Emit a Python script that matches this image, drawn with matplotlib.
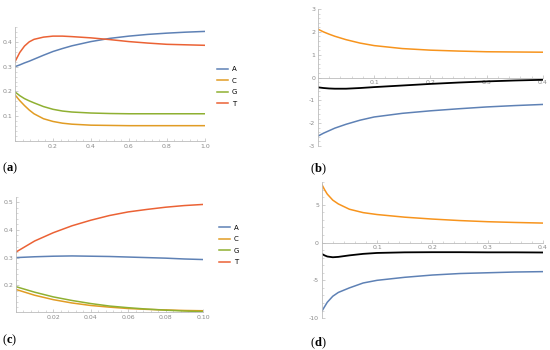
import matplotlib
matplotlib.use("Agg")
import matplotlib.pyplot as plt
from matplotlib.ticker import AutoMinorLocator, FixedLocator

# panel (a): base frequencies over t in [0, 1]
xa = [0, 0.025, 0.05, 0.075, 0.1, 0.15, 0.2, 0.25, 0.3, 0.4, 0.5, 0.6, 0.7, 0.8, 0.9, 1.0]
a_A = [0.300, 0.307, 0.315, 0.322, 0.330, 0.346, 0.361, 0.373, 0.384, 0.401, 0.414, 0.423, 0.430, 0.435, 0.439, 0.442]
a_C = [0.186, 0.163, 0.143, 0.125, 0.110, 0.090, 0.079, 0.072, 0.068, 0.064, 0.063, 0.062, 0.062, 0.062, 0.062, 0.062]
a_G = [0.198, 0.183, 0.171, 0.162, 0.154, 0.139, 0.128, 0.121, 0.117, 0.113, 0.111, 0.110, 0.110, 0.110, 0.110, 0.110]
a_T = [0.320, 0.357, 0.383, 0.400, 0.410, 0.419, 0.423, 0.423, 0.421, 0.416, 0.409, 0.401, 0.395, 0.390, 0.388, 0.386]

# panel (b)
xb = [0, 0.01, 0.02, 0.03, 0.05, 0.075, 0.1, 0.15, 0.2, 0.25, 0.3, 0.35, 0.4]
b_orange = [2.12, 2.00, 1.90, 1.81, 1.66, 1.51, 1.40, 1.27, 1.20, 1.16, 1.13, 1.12, 1.11]
b_black = [-0.43, -0.46, -0.48, -0.49, -0.49, -0.46, -0.42, -0.35, -0.28, -0.22, -0.17, -0.13, -0.10]
b_blue = [-2.57, -2.44, -2.33, -2.22, -2.05, -1.87, -1.73, -1.57, -1.46, -1.37, -1.29, -1.23, -1.18]

# panel (c): base frequencies over t in [0, 0.1]
xc = [0, 0.01, 0.02, 0.03, 0.04, 0.05, 0.06, 0.07, 0.08, 0.09, 0.10]
c_A = [0.300, 0.303, 0.305, 0.306, 0.305, 0.304, 0.302, 0.300, 0.298, 0.295, 0.293]
c_C = [0.185, 0.164, 0.148, 0.136, 0.127, 0.121, 0.116, 0.113, 0.111, 0.109, 0.108]
c_G = [0.195, 0.175, 0.158, 0.145, 0.134, 0.125, 0.119, 0.114, 0.110, 0.107, 0.105]
c_T = [0.320, 0.360, 0.390, 0.415, 0.435, 0.452, 0.465, 0.474, 0.482, 0.488, 0.492]

# panel (d)
xd = [0, 0.005, 0.01, 0.02, 0.03, 0.05, 0.075, 0.1, 0.15, 0.2, 0.25, 0.3, 0.35, 0.4]
d_orange = [7.7, 7.0, 6.4, 5.6, 5.1, 4.4, 3.95, 3.7, 3.35, 3.1, 2.9, 2.75, 2.65, 2.57]
d_black = [-1.5, -1.7, -1.85, -1.95, -1.9, -1.7, -1.5, -1.38, -1.3, -1.28, -1.28, -1.3, -1.3, -1.32]
d_blue = [-9.1, -8.5, -7.9, -7.1, -6.6, -6.0, -5.35, -5.0, -4.6, -4.3, -4.1, -4.0, -3.9, -3.85]

bases = ["A", "C", "G", "T"]
colors = ["#5E81B5", "#E19C24", "#8FB032", "#EB6235"]
orange2 = "#F7941D"
axis_col = "#BBBBBB"
tick_col = "#8A8A8A"

plt.rcParams["mathtext.fontset"] = "custom"
plt.rcParams["mathtext.rm"] = "Liberation Serif"
plt.rcParams["mathtext.bf"] = "Liberation Serif:bold"

fig = plt.figure(figsize=(5.5, 3.5), dpi=100)


def style(ax, xticks, yticks, xfmt, yfmt, zero_axis=False):
    for s in ["top", "right"]:
        ax.spines[s].set_visible(False)
    for s in ["left", "bottom"]:
        ax.spines[s].set_color(axis_col)
        ax.spines[s].set_linewidth(0.6)
    if zero_axis:
        ax.spines["bottom"].set_position(("data", 0))
    ax.xaxis.set_major_locator(FixedLocator(xticks))
    ax.yaxis.set_major_locator(FixedLocator(yticks))
    ax.set_xticklabels([xfmt.format(v) for v in xticks])
    ax.set_yticklabels([yfmt.format(v) for v in yticks])
    ax.xaxis.set_minor_locator(AutoMinorLocator(5))
    ax.yaxis.set_minor_locator(AutoMinorLocator(5))
    ax.tick_params(which="major", direction="in", length=2.5, width=0.5,
                   color=axis_col, labelcolor=tick_col, labelsize=4.5, pad=2)
    ax.tick_params(which="minor", direction="in", length=1.3, width=0.4, color=axis_col)
    ax.patch.set_alpha(0)


def panel_label(x, y, letter):
    fig.text(x, y, r"$\mathrm{(}\mathbf{" + letter + r"}\mathrm{)}$", fontsize=9, va="top", ha="left")


# (a)
ax = fig.add_axes([0.0273, 0.597, 0.345, 0.326])
for vals, col, lab in zip([a_A, a_C, a_G, a_T], colors, bases):
    ax.plot(xa, vals, color=col, lw=1.1, label=lab)
ax.set_xlim(0, 1.0)
ax.set_ylim(0, 0.46)
style(ax, [0.2, 0.4, 0.6, 0.8, 1.0], [0.1, 0.2, 0.3, 0.4], "{:.1f}", "{:.1f}")
ax.legend(loc="center left", bbox_to_anchor=(1.03, 0.48), frameon=False, fontsize=5,
          handlelength=1.6, handletextpad=0.6, labelspacing=0.8)
panel_label(0.004, 0.54, "a")

# (b)
ax = fig.add_axes([0.578, 0.583, 0.409, 0.391])
ax.plot(xb, b_orange, color=orange2, lw=1.1)
ax.plot(xb, b_black, color="black", lw=1.3)
ax.plot(xb, b_blue, color=colors[0], lw=1.1)
ax.set_xlim(0, 0.4)
ax.set_ylim(-3, 3)
style(ax, [0.1, 0.2, 0.3, 0.4], [-3, -2, -1, 0, 1, 2, 3], "{:.1f}", "{:d}", zero_axis=True)
panel_label(0.564, 0.537, "b")

# (c)
ax = fig.add_axes([0.029, 0.109, 0.34, 0.329])
for vals, col, lab in zip([c_A, c_C, c_G, c_T], colors, bases):
    ax.plot(xc, vals, color=col, lw=1.1, label=lab)
ax.set_xlim(0, 0.1)
ax.set_ylim(0.104, 0.52)
style(ax, [0.02, 0.04, 0.06, 0.08, 0.10], [0.2, 0.3, 0.4, 0.5], "{:.2f}", "{:.1f}")
ax.legend(loc="center left", bbox_to_anchor=(1.05, 0.58), frameon=False, fontsize=5,
          handlelength=1.6, handletextpad=0.6, labelspacing=0.8)
panel_label(0.004, 0.049, "c")

# (d)
ax = fig.add_axes([0.585, 0.091, 0.402, 0.389])
ax.plot(xd, d_orange, color=orange2, lw=1.1)
ax.plot(xd, d_black, color="black", lw=1.3)
ax.plot(xd, d_blue, color=colors[0], lw=1.1)
ax.set_xlim(0, 0.4)
ax.set_ylim(-10, 8)
style(ax, [0.1, 0.2, 0.3, 0.4], [-10, -5, 0, 5], "{:.1f}", "{:d}", zero_axis=True)
panel_label(0.564, 0.04, "d")

fig.savefig("out.png", dpi=100)
